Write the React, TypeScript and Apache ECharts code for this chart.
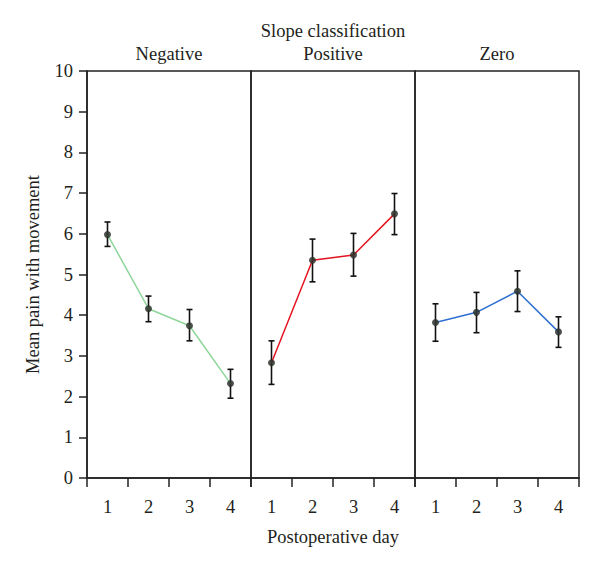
import React, { useEffect, useRef } from "react";
import * as echarts from "echarts";

const days = ["1", "2", "3", "4"];
const panels = ["Negative", "Positive", "Zero"];
const colors = ["#8ed69a", "#e3131f", "#2f6fd2"];

const negMean = [5.98, 4.16, 3.74, 2.32];
const negLow = [5.69, 3.84, 3.37, 1.96];
const negHigh = [6.29, 4.47, 4.14, 2.67];

const posMean = [2.83, 5.35, 5.48, 6.49];
const posLow = [2.3, 4.82, 4.96, 5.98];
const posHigh = [3.37, 5.87, 6.01, 6.99];

const zeroMean = [3.82, 4.07, 4.59, 3.59];
const zeroLow = [3.36, 3.57, 4.09, 3.21];
const zeroHigh = [4.28, 4.56, 5.09, 3.96];

const means = [negMean, posMean, zeroMean];
const lows = [negLow, posLow, zeroLow];
const highs = [negHigh, posHigh, zeroHigh];

const FONT = '"Liberation Serif", "Times New Roman", serif';
const TXT = "#231f20";
const FS = 18.5;

export default function App() {
  const ref = useRef<HTMLDivElement>(null);
  useEffect(() => {
    if (!ref.current) return;
    const chart = echarts.init(ref.current, null, { renderer: "svg" });
    const gridLeft = 87;
    const gridW = 164;
    const top = 71;
    const h = 407;
    const grids = panels.map((_, i) => ({
      left: gridLeft + i * gridW,
      top,
      width: gridW,
      height: h,
      show: true,
      borderColor: "#222",
      borderWidth: 1.5,
      backgroundColor: "transparent",
    }));
    const xAxes = panels.map((_, i) => ({
      type: "category",
      gridIndex: i,
      data: days,
      boundaryGap: true,
      axisLine: { show: true, lineStyle: { color: "#222", width: 1.5 } },
      axisTick: { show: true, inside: false, length: 9, lineStyle: { color: "#222", width: 1.5 } },
      axisLabel: { fontFamily: FONT, fontSize: FS, color: TXT, margin: 19 },
      name: i === 1 ? "Postoperative day" : "",
      nameLocation: "middle",
      nameGap: 49,
      nameTextStyle: { fontFamily: FONT, fontSize: FS, color: TXT },
    }));
    const yAxes = panels.map((_, i) => ({
      type: "value",
      gridIndex: i,
      min: 0,
      max: 10,
      interval: 1,
      show: i === 0,
      splitLine: { show: false },
      axisLine: { show: true, lineStyle: { color: "#222", width: 1.5 } },
      axisTick: { show: true, inside: false, length: 8, lineStyle: { color: "#222", width: 1.5 } },
      axisLabel: { fontFamily: FONT, fontSize: FS, color: TXT, margin: 14 },
      name: i === 0 ? "Mean pain with movement" : "",
      nameLocation: "middle",
      nameGap: 45,
      nameTextStyle: { fontFamily: FONT, fontSize: FS, color: TXT },
    }));
    const series: any[] = [];
    panels.forEach((_, i) => {
      series.push({
        type: "custom",
        xAxisIndex: i,
        yAxisIndex: i,
        z: 2,
        data: days.map((_, k) => [k, lows[i][k], highs[i][k]]),
        encode: { x: 0, y: [1, 2] },
        renderItem: (params: any, api: any) => {
          const x = api.value(0);
          const lo = api.coord([x, api.value(1)]);
          const hi = api.coord([x, api.value(2)]);
          const cw = 3;
          const style = { stroke: "#111", lineWidth: 1.6 };
          return {
            type: "group",
            children: [
              { type: "line", shape: { x1: lo[0], y1: lo[1], x2: hi[0], y2: hi[1] }, style },
              { type: "line", shape: { x1: hi[0] - cw, y1: hi[1], x2: hi[0] + cw, y2: hi[1] }, style },
              { type: "line", shape: { x1: lo[0] - cw, y1: lo[1], x2: lo[0] + cw, y2: lo[1] }, style },
            ],
          };
        },
      });
      series.push({
        type: "line",
        xAxisIndex: i,
        yAxisIndex: i,
        z: 3,
        data: means[i],
        symbol: "circle",
        symbolSize: 7,
        lineStyle: { color: colors[i], width: 1.5 },
        itemStyle: { color: "rgba(45,50,45,0.85)" },
      });
    });
    const textStyle = (t: string, x: number, y: number) => ({
      type: "text",
      x,
      y,
      style: {
        text: t,
        fill: TXT,
        font: `${FS}px ${FONT}`,
        align: "center",
        verticalAlign: "middle",
      },
    });
    chart.setOption({
      animation: false,
      backgroundColor: "#ffffff",
      grid: grids,
      xAxis: xAxes,
      yAxis: yAxes,
      series,
      graphic: [
        textStyle("Slope classification", 333, 31),
        ...panels.map((p, i) => textStyle(p, gridLeft + gridW * i + gridW / 2, 54)),
      ],
    } as any);
    return () => chart.dispose();
  }, []);
  return (
    <div
      ref={ref}
      style={{ position: "absolute", left: 0, top: 0, width: 600, height: 568 }}
    />
  );
}
